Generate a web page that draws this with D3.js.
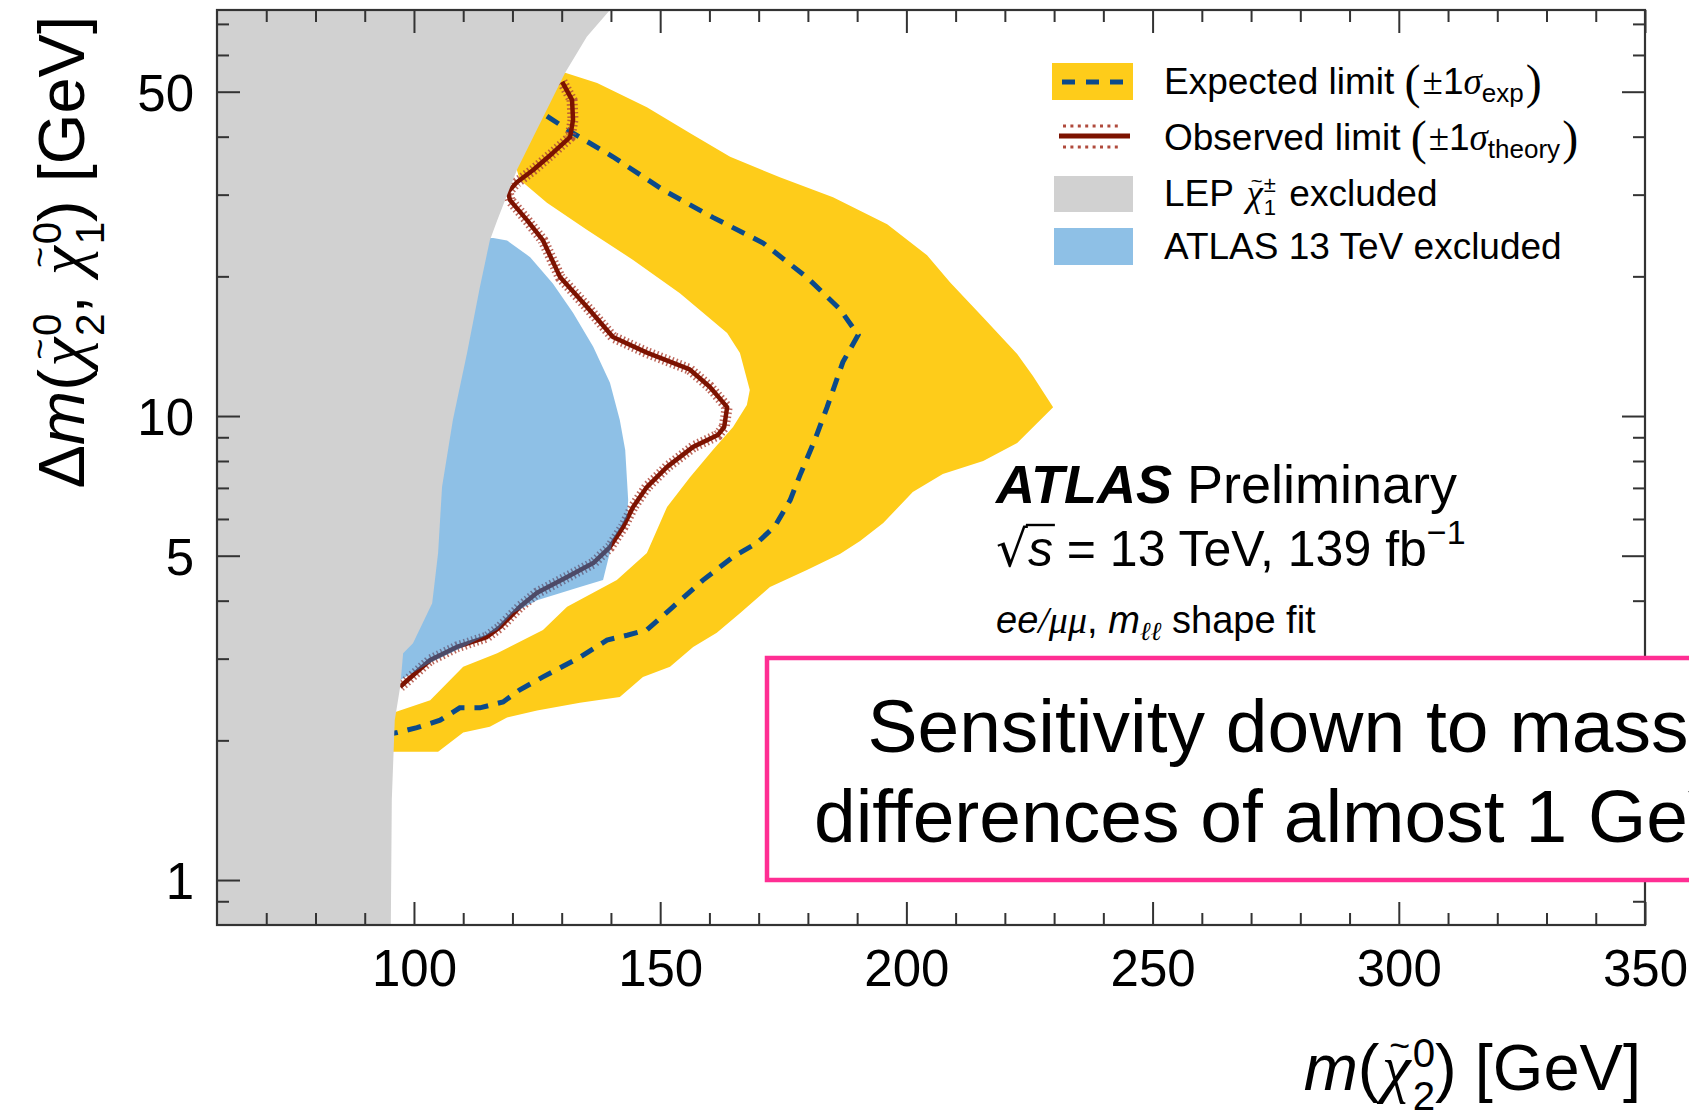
<!DOCTYPE html>
<html>
<head>
<meta charset="utf-8">
<script src="https://cdn.jsdelivr.net/npm/d3@7"></script>
<style>
  html, body { margin: 0; padding: 0; background: #fff; }
  svg { display: block; }
  text { white-space: pre; }
</style>
</head>
<body>
<svg id="chart" width="1689" height="1116"></svg>
<script>
// ---- axis ranges and ticks ----
const xDomain = [60, 350];
const yDomain = [0.8, 75];
const xTickValues = [100, 150, 200, 250, 300, 350];
const yTickValues = [1, 5, 10, 50];
const yMinorValues = [0.9, 2, 3, 4, 6, 7, 8, 9, 20, 30, 40, 60, 70];

// ---- contours: [m(chi2), delta m] in GeV ----
// LEP chargino exclusion edge (region to the left is excluded)
const lepBoundary = [
  [139.8, 75], [135.1, 65.7], [130.7, 54.9], [120.9, 33.9], [116.9, 26.4], [115.4, 23.9],
  [113.4, 19.0], [110.8, 13.7], [107.9, 9.8], [105.7, 7.03], [104.9, 5.07], [103.7, 3.95],
  [99.8, 3.24], [97.8, 3.08], [97.2, 2.61], [96.1, 2.21], [95.5, 1.49], [95.3, 0.8]
];

// expected +/-1 sigma band: outer (+1 sigma) edge, then inner (-1 sigma) edge
const expBandOuter = [
  [115, 54.9], [130.7, 54.9], [137.2, 52.2], [147.3, 46.3], [156.1, 40.7], [164.2, 36.2],
  [174.3, 32.7], [185.1, 29.6], [196.1, 25.9], [204.2, 22.2], [208.9, 19.4], [215.6, 16.3],
  [222.5, 13.6], [225.7, 12.2], [229.8, 10.45], [222.5, 8.75], [215.6, 8.0], [207.4, 7.5],
  [201.3, 6.86], [195.3, 5.88], [190.6, 5.38], [186.5, 5.04], [179.8, 4.66], [172.3, 4.28],
  [166.2, 3.76], [161.5, 3.41], [156.7, 3.18], [152.0, 2.88], [146.5, 2.74], [141.8, 2.48],
  [133.7, 2.41], [125.0, 2.32], [118.9, 2.24], [115.4, 2.14], [110.0, 2.08], [104.9, 1.89],
  [95.7, 1.89], [90, 1.89]
];
const expBandInner = [
  [90, 2.30], [96.1, 2.30], [103.3, 2.44], [110.0, 2.88], [116.9, 3.08], [126.2, 3.46],
  [131.1, 3.88], [141.2, 4.43], [147.3, 5.07], [151.4, 6.37], [156.1, 7.39], [160.7, 8.45],
  [164.8, 9.47], [167.6, 10.56], [168.2, 11.38], [166.2, 13.67], [163.6, 15.1], [154.0, 18.4],
  [144.5, 21.7], [135.1, 25.2], [127.0, 28.8], [121.5, 32.3], [120.9, 33.9], [115, 33.9]
];

// expected limit (median)
const expectedLine = [
  [127.0, 44.3], [132.3, 40.7], [140.4, 36.2], [150.6, 30.7], [160.7, 26.8], [170.9, 23.6],
  [179.8, 19.9], [186.5, 17.0], [190.2, 14.95], [187.1, 13.07], [183.9, 10.45], [181.4, 8.88],
  [178.4, 7.46], [176.4, 6.59], [173.3, 5.79], [169.7, 5.33], [164.8, 4.97], [158.7, 4.43],
  [152.6, 3.88], [147.3, 3.46], [143.3, 3.37], [139.2, 3.29], [133.7, 3.02], [126.2, 2.74],
  [121.5, 2.57], [118.1, 2.42], [113.4, 2.35], [109.3, 2.35], [105.3, 2.21], [100.6, 2.13],
  [96.6, 2.08], [95.5, 2.07]
];

// observed limit
const observedLine = [
  [130.1, 52.5], [132.1, 48.0], [132.3, 43.5], [131.7, 39.9], [128.2, 36.9], [124.2, 33.9],
  [120.9, 31.9], [119.1, 30.4], [119.5, 29.2], [123.0, 26.4], [126.2, 23.9], [129.7, 19.9],
  [135.1, 17.2], [140.4, 14.8], [147.3, 13.7], [156.0, 12.6], [160.1, 11.55], [163.6, 10.45],
  [163.0, 9.47], [161.7, 9.1], [156.7, 8.58], [151.4, 7.77], [147.3, 7.03], [144.5, 6.37],
  [142.5, 5.77], [139.8, 5.22], [136.4, 4.82], [131.1, 4.50], [125.0, 4.16], [121.5, 3.88],
  [117.5, 3.51], [114.8, 3.34], [108.7, 3.18], [103.3, 2.98], [97.2, 2.61]
];

// earlier ATLAS 13 TeV exclusion
const atlasExcluded = [
  [116.1, 24.2], [118.9, 23.9], [123.6, 22.0], [128.2, 19.3], [132.3, 16.7], [136.4, 14.1],
  [139.8, 11.8], [141.8, 9.8], [142.9, 8.45], [143.5, 6.59], [143.3, 6.06], [140.4, 5.40],
  [138.4, 4.43], [133.7, 4.28], [125.0, 4.01], [120.1, 3.76], [116.9, 3.46], [110.0, 3.18],
  [103.3, 2.94], [97.2, 2.70], [96.8, 2.57], [92, 2.57], [92, 24.2]
];

// ---- styles ----
const SANS = '"Liberation Sans", Arial, Helvetica, sans-serif';
const SERIF = '"Liberation Serif", "DejaVu Serif", "Times New Roman", serif';
const YELLOW = '#fecc1a';
const EXP_BLUE = '#0b4a8b';
const OBS_RED = '#7c1200';
const HATCH_RED = '#b04a3c';
const LEP_GRAY = '#d1d1d1';
const ATLAS_BLUE = 'rgb(30,130,205)';
const AXIS_COL = '#333';

const W = 1689, H = 1116;
const frame = { left: 217, right: 1645, top: 10, bottom: 925 };

const svg = d3.select('#chart');
svg.append('rect').attr('width', W).attr('height', H).attr('fill', '#fff');

const x = d3.scaleLinear().domain(xDomain).range([frame.left, frame.right]);
const y = d3.scaleLog().domain(yDomain).range([frame.bottom, frame.top]);

svg.append('defs').append('clipPath').attr('id', 'plotClip')
  .append('rect')
  .attr('x', frame.left).attr('y', frame.top)
  .attr('width', frame.right - frame.left).attr('height', frame.bottom - frame.top);

const line = d3.line().x(d => x(d[0])).y(d => y(d[1]));
const plot = svg.append('g').attr('clip-path', 'url(#plotClip)');

// expected band
plot.append('path')
  .datum(expBandOuter.concat(expBandInner))
  .attr('d', d => line(d) + 'Z')
  .attr('fill', YELLOW);

// expected median
plot.append('path')
  .datum(expectedLine)
  .attr('d', line)
  .attr('fill', 'none')
  .attr('stroke', EXP_BLUE)
  .attr('stroke-width', 5)
  .attr('stroke-dasharray', '14 10');

// observed: theory-uncertainty hatching, then the central line
plot.append('path')
  .datum(observedLine)
  .attr('d', line)
  .attr('fill', 'none')
  .attr('stroke', HATCH_RED)
  .attr('stroke-width', 11)
  .attr('stroke-dasharray', '1.5 2.6')
  .attr('opacity', 0.85);
plot.append('path')
  .datum(observedLine)
  .attr('d', line)
  .attr('fill', 'none')
  .attr('stroke', OBS_RED)
  .attr('stroke-width', 4.5)
  .attr('stroke-linejoin', 'round');

// ATLAS 13 TeV exclusion (translucent)
plot.append('path')
  .datum(atlasExcluded)
  .attr('d', d => line(d) + 'Z')
  .attr('fill', ATLAS_BLUE)
  .attr('fill-opacity', 0.5);

// LEP exclusion
const lepRegion = [[xDomain[0], yDomain[1]]].concat(lepBoundary, [[xDomain[0], yDomain[0]]]);
plot.append('path')
  .datum(lepRegion)
  .attr('d', d => line(d) + 'Z')
  .attr('fill', LEP_GRAY);

// ---- axes ----
function styleAxis(g) {
  g.select('.domain').remove();
  g.selectAll('line').attr('stroke', AXIS_COL).attr('stroke-width', 2);
  g.selectAll('text').attr('font-family', SANS).attr('font-size', 51).attr('fill', '#000');
}
const xMinor = d3.range(70, 350, 10).filter(v => v % 50 !== 0);
const none = () => '';

svg.append('g').attr('transform', `translate(0,${frame.bottom})`)
  .call(d3.axisBottom(x).tickValues(xTickValues).tickSize(-23).tickPadding(25).tickFormat(d3.format('d')))
  .call(styleAxis);
svg.append('g').attr('transform', `translate(0,${frame.bottom})`)
  .call(d3.axisBottom(x).tickValues(xMinor).tickSize(-12).tickFormat(none))
  .call(styleAxis);
svg.append('g').attr('transform', `translate(0,${frame.top})`)
  .call(d3.axisTop(x).tickValues(xTickValues).tickSize(-23).tickFormat(none))
  .call(styleAxis);
svg.append('g').attr('transform', `translate(0,${frame.top})`)
  .call(d3.axisTop(x).tickValues(xMinor).tickSize(-12).tickFormat(none))
  .call(styleAxis);

const yAxisG = svg.append('g').attr('transform', `translate(${frame.left},0)`)
  .call(d3.axisLeft(y).tickValues(yTickValues).tickSize(-23).tickPadding(23).tickFormat(d3.format('d')))
  .call(styleAxis);
yAxisG.selectAll('text').attr('dy', '0.36em');
svg.append('g').attr('transform', `translate(${frame.left},0)`)
  .call(d3.axisLeft(y).tickValues(yMinorValues).tickSize(-12).tickFormat(none))
  .call(styleAxis);
svg.append('g').attr('transform', `translate(${frame.right},0)`)
  .call(d3.axisRight(y).tickValues(yTickValues).tickSize(-23).tickFormat(none))
  .call(styleAxis);
svg.append('g').attr('transform', `translate(${frame.right},0)`)
  .call(d3.axisRight(y).tickValues(yMinorValues).tickSize(-12).tickFormat(none))
  .call(styleAxis);

svg.append('rect')
  .attr('x', frame.left).attr('y', frame.top)
  .attr('width', frame.right - frame.left).attr('height', frame.bottom - frame.top)
  .attr('fill', 'none').attr('stroke', AXIS_COL).attr('stroke-width', 2.2);

// ---- rich text: segments laid out left to right ----
function richText(parent, segs, tx, ty, anchor) {
  const g = parent.append('g');
  let cx = 0, stackX = null, stackW = 0, lastX = 0, lastW = 0;
  for (const s of segs) {
    const t = g.append('text').text(s.t)
      .attr('font-size', s.fs)
      .attr('font-family', s.ff || SANS)
      .attr('font-style', s.it ? 'italic' : 'normal')
      .attr('font-weight', s.b ? 'bold' : 'normal')
      .attr('fill', '#000');
    if (s.over) {
      t.attr('text-anchor', 'middle')
        .attr('x', lastX + lastW / 2 + (s.dx || 0))
        .attr('y', s.dy || 0);
      continue;
    }
    const x0 = stackX !== null ? stackX : cx + (s.dx || 0);
    t.attr('x', x0).attr('y', s.dy || 0);
    const w = t.node().getComputedTextLength();
    if (s.bar) {
      g.append('line')
        .attr('x1', x0 - 2).attr('x2', x0 + w + 2)
        .attr('y1', s.bar).attr('y2', s.bar)
        .attr('stroke', '#000').attr('stroke-width', 2.4);
    }
    if (s.stack) {
      if (stackX === null) stackX = x0;
      stackW = Math.max(stackW, w);
    } else if (stackX !== null) {
      cx = stackX + Math.max(stackW, w);
      stackX = null; stackW = 0;
    } else {
      cx = x0 + w;
    }
    lastX = x0; lastW = w;
  }
  const shift = anchor === 'end' ? -cx : anchor === 'middle' ? -cx / 2 : 0;
  g.attr('transform', `translate(${tx + shift},${ty})`);
  return g;
}

function chiSegs(T, sup, sub) {
  const S = T * 0.62;
  return [
    { t: 'χ', fs: T, ff: SERIF, it: true, dx: T * 0.04 },
    { over: true, t: '~', fs: T * 0.55, dy: -T * 0.5, dx: T * 0.05 },
    { t: sup, fs: S, dy: -T * 0.36, dx: T * 0.03, stack: true },
    { t: sub, fs: S, dy: T * 0.3 }
  ];
}

// axis titles
const TT = 65;
richText(svg, [
  { t: 'm', fs: TT, it: true },
  { t: '(', fs: TT },
  ...chiSegs(TT, '0', '2'),
  { t: ') [GeV]', fs: TT }
], 1641, 1090, 'end');

const yTitle = svg.append('g').attr('transform', 'translate(84,16) rotate(-90)');
richText(yTitle, [
  { t: 'Δ', fs: TT },
  { t: 'm', fs: TT, it: true },
  { t: '(', fs: TT },
  ...chiSegs(TT, '0', '2'),
  { t: ', ', fs: TT },
  ...chiSegs(TT, '0', '1'),
  { t: ') [GeV]', fs: TT }
], 0, 0, 'end');

// ---- legend ----
const LF = 37;
const legend = svg.append('g');
legend.append('rect').attr('x', 1052).attr('y', 63).attr('width', 81).attr('height', 37).attr('fill', YELLOW);
legend.append('line').attr('x1', 1062).attr('x2', 1124).attr('y1', 82).attr('y2', 82)
  .attr('stroke', EXP_BLUE).attr('stroke-width', 5).attr('stroke-dasharray', '13 11');
legend.append('line').attr('x1', 1059).attr('x2', 1130).attr('y1', 136).attr('y2', 136)
  .attr('stroke', OBS_RED).attr('stroke-width', 5);
[126, 147].forEach(yy => legend.append('line')
  .attr('x1', 1063).attr('x2', 1122).attr('y1', yy).attr('y2', yy)
  .attr('stroke', HATCH_RED).attr('stroke-width', 3).attr('stroke-dasharray', '3 4.4'));
legend.append('rect').attr('x', 1054).attr('y', 176).attr('width', 79).attr('height', 36).attr('fill', LEP_GRAY);
legend.append('rect').attr('x', 1054).attr('y', 228).attr('width', 79).attr('height', 37)
  .attr('fill', ATLAS_BLUE).attr('fill-opacity', 0.5);

function sigmaSegs(label, sub) {
  return [
    { t: label, fs: LF },
    { t: '(', fs: 48, ff: SERIF, dy: 4 },
    { t: '±', fs: LF, ff: SERIF, dx: 2 },
    { t: '1', fs: LF },
    { t: 'σ', fs: LF, ff: SERIF, it: true },
    { t: sub, fs: 26, dy: 8 },
    { t: ')', fs: 48, ff: SERIF, dy: 4, dx: 2 }
  ];
}
richText(legend, sigmaSegs('Expected limit ', 'exp'), 1164, 94, 'start');
richText(legend, sigmaSegs('Observed limit ', 'theory'), 1164, 150, 'start');
richText(legend, [
  { t: 'LEP ', fs: LF },
  { t: 'χ', fs: LF, ff: SERIF, it: true, dx: 3 },
  { over: true, t: '~', fs: LF * 0.55, dy: -LF * 0.5, dx: 2 },
  { t: '±', fs: 22, dy: -14, dx: 1, stack: true },
  { t: '1', fs: 22, dy: 9 },
  { t: ' excluded', fs: LF, dx: 3 }
], 1164, 206, 'start');
richText(legend, [{ t: 'ATLAS 13 TeV excluded', fs: LF }], 1164, 259, 'start');

// ---- experiment label ----
const lab = svg.append('g');
richText(lab, [
  { t: 'ATLAS', fs: 54, b: true, it: true },
  { t: ' Preliminary', fs: 54 }
], 996, 503, 'start');
richText(lab, [
  { t: '√', fs: 50, ff: '"DejaVu Sans", sans-serif' },
  { t: 's', fs: 50, it: true, bar: -41 },
  { t: ' = 13 TeV, 139 fb', fs: 50 },
  { t: '−1', fs: 34, dy: -22 }
], 996, 566, 'start');
richText(lab, [
  { t: 'ee', fs: 38, it: true },
  { t: '/', fs: 38, ff: SERIF, it: true },
  { t: 'μμ', fs: 38, ff: SERIF, it: true },
  { t: ', ', fs: 38 },
  { t: 'm', fs: 38, it: true },
  { t: 'ℓℓ', fs: 26, ff: SERIF, it: true, dy: 7 },
  { t: ' shape fit', fs: 38 }
], 996, 633, 'start');

// ---- callout box ----
const box = svg.append('g');
box.append('rect')
  .attr('x', 767).attr('y', 658).attr('width', 1030).attr('height', 222)
  .attr('fill', '#fff').attr('stroke', '#ff2e93').attr('stroke-width', 4.5);
box.append('text').attr('x', 1278).attr('y', 752)
  .attr('text-anchor', 'middle').attr('font-family', SANS).attr('font-size', 75)
  .text('Sensitivity down to mass');
box.append('text').attr('x', 1276).attr('y', 842)
  .attr('text-anchor', 'middle').attr('font-family', SANS).attr('font-size', 75)
  .text('differences of almost 1 GeV');
</script>
</body>
</html>
